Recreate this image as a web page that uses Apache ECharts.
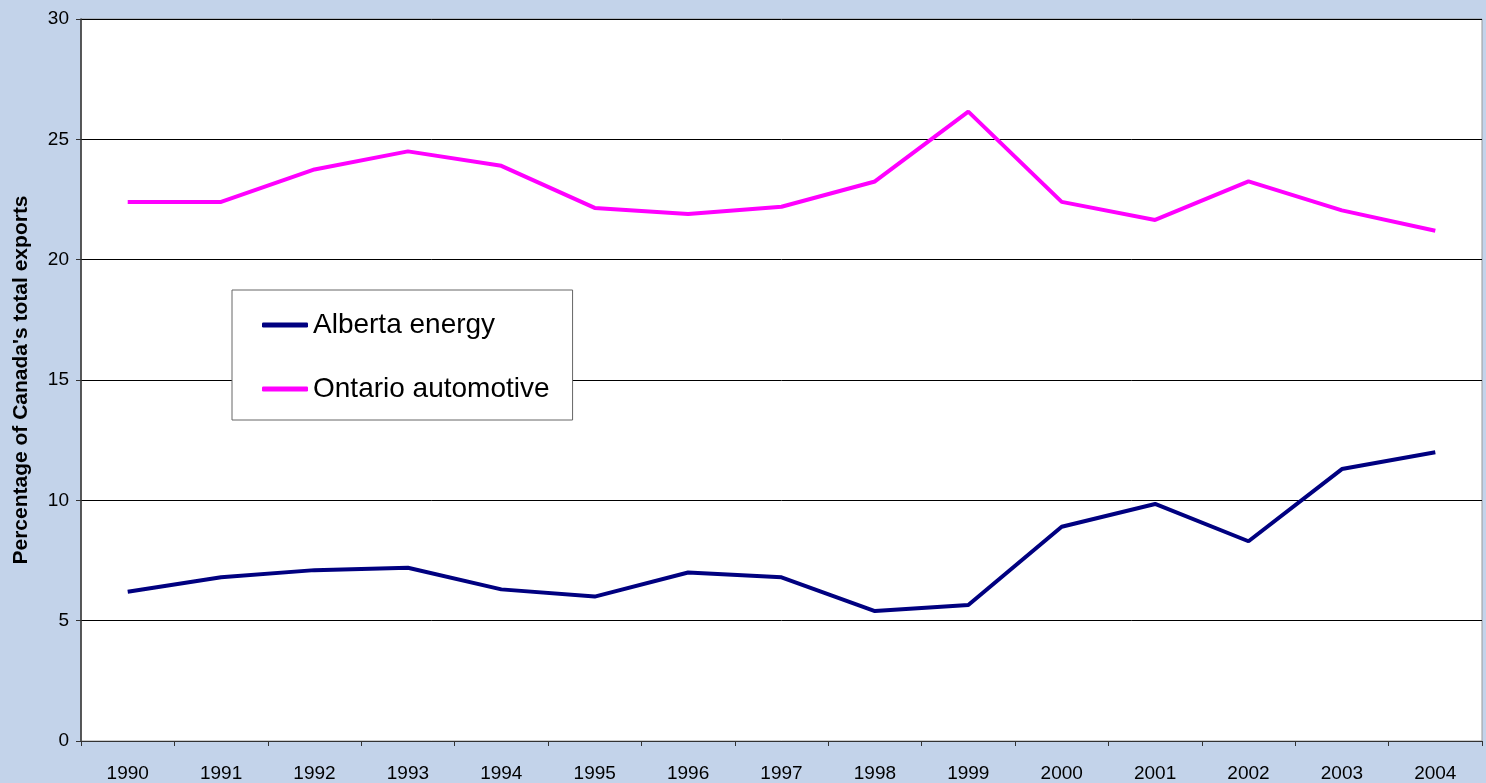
<!DOCTYPE html>
<html>
<head>
<meta charset="utf-8">
<script src="https://cdn.jsdelivr.net/npm/echarts@6/dist/echarts.min.js"></script>
<style>
  html, body { margin: 0; padding: 0; background: #c3d3ea; }
  #chart { width: 1486px; height: 783px; }
</style>
</head>
<body>
<div id="chart"></div>
<script>
  // years on the x axis
  const years = ['1990', '1991', '1992', '1993', '1994', '1995', '1996', '1997',
    '1998', '1999', '2000', '2001', '2002', '2003', '2004']
  // share of Canada's total exports, %
  const albertaEnergy = [6.2, 6.8, 7.1, 7.2, 6.3, 6.0, 7.0, 6.8, 5.4, 5.65, 8.9, 9.85, 8.3, 11.3, 12.0]
  const ontarioAutomotive = [22.4, 22.4, 23.75, 24.5, 23.9, 22.15, 21.9, 22.2, 23.25, 26.15, 22.4, 21.65, 23.25, 22.05, 21.2]

  const font = '"Liberation Sans", Arial, sans-serif'
  const chart = echarts.init(document.getElementById('chart'))
  const option = {
    backgroundColor: '#c3d3ea',
    animation: false,
    grid: {
      left: 81,
      right: 4,
      top: 19,
      bottom: 42,
      show: true,
      backgroundColor: '#ffffff',
      borderColor: '#999999',
      borderWidth: 1
    },
    legend: {
      left: 232,
      top: 290,
      orient: 'vertical',
      backgroundColor: '#ffffff',
      borderColor: '#666666',
      borderWidth: 1,
      padding: [21, 23, 17, 30],
      itemGap: 36,
      itemWidth: 46,
      itemHeight: 5,
      icon: 'roundRect',
      textStyle: { fontFamily: font, fontSize: 28, color: '#000', lineHeight: 28 },
      data: ['Alberta energy', 'Ontario automotive']
    },
    xAxis: {
      type: 'category',
      data: years,
      boundaryGap: true,
      axisLine: { lineStyle: { color: '#333', width: 1 } },
      axisTick: { show: true, length: 5, lineStyle: { color: '#333' } },
      axisLabel: { fontFamily: font, fontSize: 19, color: '#000', margin: 23 }
    },
    yAxis: {
      type: 'value',
      min: 0,
      max: 30,
      interval: 5,
      name: 'Percentage of Canada\'s total exports',
      nameLocation: 'middle',
      nameGap: 49,
      nameTextStyle: { fontFamily: font, fontSize: 21, fontWeight: 'bold', color: '#000' },
      axisLine: { show: true, lineStyle: { color: '#333', width: 1.5 } },
      axisTick: { show: true, length: 5, lineStyle: { color: '#333' } },
      axisLabel: { fontFamily: font, fontSize: 19, color: '#000', margin: 12 },
      splitLine: { show: true, lineStyle: { color: '#000', width: 1 } }
    },
    series: [
      {
        name: 'Alberta energy',
        type: 'line',
        data: albertaEnergy,
        symbol: 'none',
        color: '#000080',
        lineStyle: { width: 4, color: '#000080' }
      },
      {
        name: 'Ontario automotive',
        type: 'line',
        data: ontarioAutomotive,
        symbol: 'none',
        color: '#ff00ff',
        lineStyle: { width: 4, color: '#ff00ff' }
      }
    ]
  }
  chart.setOption(option)
</script>
</body>
</html>
